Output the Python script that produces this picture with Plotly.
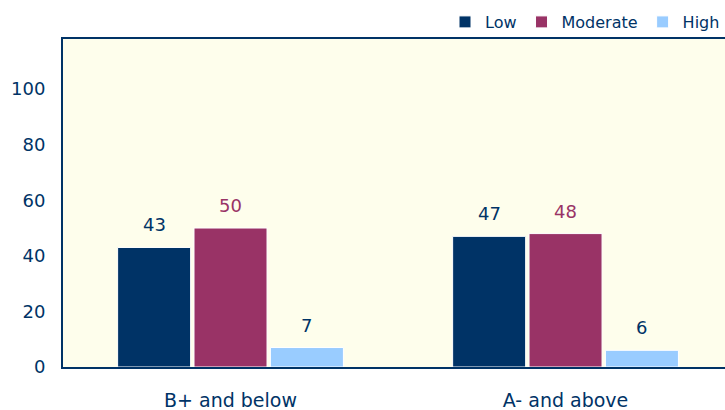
import plotly.graph_objects as go

categories = ["B+ and below", "A- and above"]
series_names = ["Low", "Moderate", "High"]
low = [43, 47]
moderate = [50, 48]
high = [7, 6]

colors = ["#003366", "#993366", "#99CCFF"]
label_colors = ["#003366", "#993366", "#003366"]
navy = "#003366"
font_family = "DejaVu Sans"

W, H = 725, 410
ML, MR, MT, MB = 63, 0, 39, 43
x_range = [-0.5, 1.476]
bargap, bargroupgap = 0.316, 0.044
px_per_cat = (W - ML - MR) / (x_range[1] - x_range[0])
slot_px = (1 - bargap) / len(series_names) * px_per_cat

fig = go.Figure()
annotations = []
for i, (name, vals, c, lc) in enumerate(zip(series_names, [low, moderate, high], colors, label_colors)):
    fig.add_trace(go.Bar(
        x=categories, y=vals, name=name,
        marker=dict(color=c, line=dict(color="#ffffff", width=1)),
    ))
    for cat, v in zip(categories, vals):
        annotations.append(dict(
            x=cat, y=v, xref="x", yref="y", text=str(v), showarrow=False,
            yanchor="bottom", yshift=10, xshift=(i - 1) * slot_px,
            font=dict(color=lc, size=18, family=font_family),
        ))

fig.update_layout(
    width=W, height=H,
    margin=dict(l=ML, r=MR, t=MT, b=MB, autoexpand=False),
    paper_bgcolor="#ffffff",
    plot_bgcolor="#fefeec",
    barmode="group", bargap=bargap, bargroupgap=bargroupgap,
    font=dict(family=font_family, color=navy, size=17),
    showlegend=True,
    legend=dict(orientation="h", x=1.0, xanchor="right", y=1.0, yanchor="bottom",
                font=dict(size=16, color=navy), itemwidth=30,
                bgcolor="rgba(0,0,0,0)"),
    annotations=annotations,
    xaxis=dict(type="category", range=x_range, showline=True, linecolor=navy,
               linewidth=2, mirror=True, ticks="", showgrid=False, automargin=False,
               ticklabelstandoff=15,
               tickfont=dict(size=19, color=navy)),
    yaxis=dict(range=[0, 118], tickvals=[0, 20, 40, 60, 80, 100], showgrid=False,
               zeroline=False, showline=True, linecolor=navy, linewidth=2,
               ticks="", automargin=False, ticklabelstandoff=12,
               tickfont=dict(size=18, color=navy)),
)

fig.write_html("out.html", config={"displayModeBar": False},
               post_script="document.body.style.margin='0px';")
